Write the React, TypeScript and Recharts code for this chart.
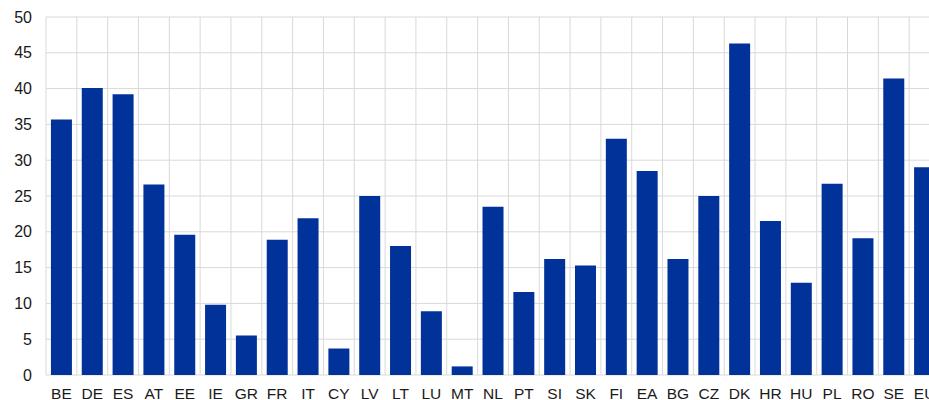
import { BarChart, Bar, XAxis, YAxis, CartesianGrid } from "recharts"

const countries = [
  "BE", "DE", "ES", "AT", "EE", "IE", "GR", "FR", "IT", "CY",
  "LV", "LT", "LU", "MT", "NL", "PT", "SI", "SK", "FI", "EA",
  "BG", "CZ", "DK", "HR", "HU", "PL", "RO", "SE", "EU",
]

const shares = [
  35.7, 40.1, 39.2, 26.6, 19.6, 9.8, 5.5, 18.9, 21.9, 3.7,
  25.0, 18.0, 8.9, 1.2, 23.5, 11.6, 16.2, 15.3, 33.0, 28.5,
  16.2, 25.0, 46.3, 21.5, 12.9, 26.7, 19.1, 41.4, 29.0,
]

const yTicks = [0, 5, 10, 15, 20, 25, 30, 35, 40, 45, 50]

const data = countries.map((c, i) => ({ country: c, value: shares[i] }))

const FONT = "'Liberation Sans', Arial, sans-serif"

export default function App() {
  // grid lines sit on the category boundaries, not the band centres
  const boundaryLines = ({ offset }: any) => {
    const n = countries.length
    const step = offset.width / n
    const pts: number[] = []
    for (let i = 0; i <= n; i++) pts.push(offset.left + i * step)
    return pts
  }

  return (
    <div style={{ position: "absolute", left: 0, top: 0, width: 929, height: 400, overflow: "hidden", background: "#fff" }}>
      <BarChart
        width={940}
        height={400}
        data={data}
        margin={{ top: 17, right: 0, left: 0, bottom: 0 }}
        barCategoryGap="16%"
      >
        <CartesianGrid stroke="#d9d9d9" verticalCoordinatesGenerator={boundaryLines} />
        <XAxis
          dataKey="country"
          height={25}
          tickLine={false}
          axisLine={false}
          tickSize={0}
          tickMargin={13}
          interval={0}
          tick={{ fill: "#1a1a1a", fontSize: 15.5, fontFamily: FONT }}
        />
        <YAxis
          width={46}
          domain={[0, 50]}
          ticks={yTicks}
          tickLine={false}
          axisLine={false}
          tickSize={0}
          tickMargin={14}
          interval={0}
          tick={{ fill: "#1a1a1a", fontSize: 16, fontFamily: FONT }}
        />
        <Bar dataKey="value" fill="#003299" isAnimationActive={false} />
      </BarChart>
    </div>
  )
}
